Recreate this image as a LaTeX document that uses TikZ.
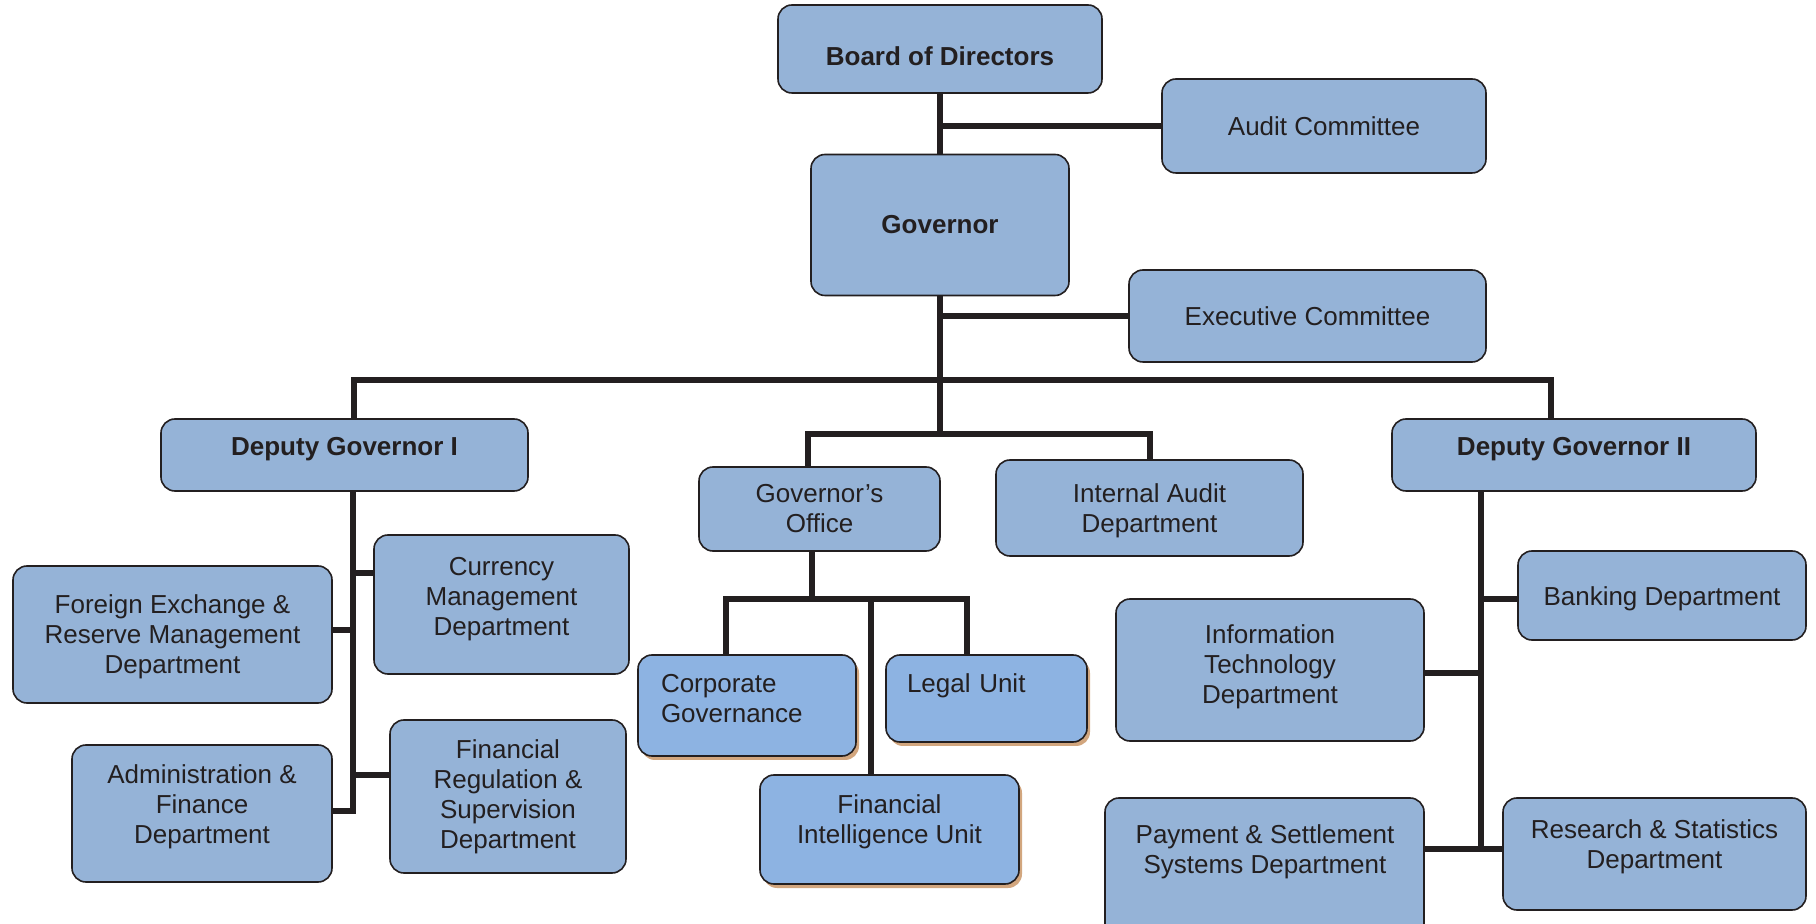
\documentclass[tikz,border=0pt]{standalone}
\usepackage{fontspec}
\setmainfont{Liberation Sans}
\usepackage{tikz}
\usetikzlibrary{positioning,shadows}
\definecolor{boxblue}{HTML}{95B3D7}
\definecolor{lightblue}{HTML}{8DB3E2}
\definecolor{shadowtan}{HTML}{D2A67E}
\definecolor{inkdark}{HTML}{231F20}
\newcommand{\padabove}[1]{\rule{0pt}{#1}}
\newcommand{\padbelow}[1]{\rule[-#1]{0pt}{#1}}
\tikzset{font=\fontsize{13}{15}\selectfont}
\tikzstyle{unit}=[rectangle,rounded corners=7pt,draw=inkdark,line width=0.8pt,fill=boxblue,text=inkdark,align=center,inner sep=2pt]
\tikzstyle{head}=[unit,font=\fontsize{13}{15}\selectfont\bfseries]
\tikzstyle{office}=[unit,fill=lightblue,drop shadow={shadow xshift=1.5pt,shadow yshift=-2pt,fill=shadowtan,opacity=1}]
\tikzstyle{conn}=[draw=inkdark,line width=2.8pt]

\begin{document}
\begin{tikzpicture}[x=0.5pt,y=-0.5pt]
\useasboundingbox (0,0) rectangle (1816,924);
\node[head,minimum width=162pt,minimum height=44pt] (bod) at (940,49) {\padabove{16.5pt}Board of Directors};
\node[unit,minimum width=162pt,minimum height=47pt] (audit) at (1324,126) {Audit Committee};
\node[head,minimum width=129pt,minimum height=70.5pt] (gov) at (940,225) {Governor};
\node[unit,minimum width=178.5pt,minimum height=46pt] (exec) at (1307.5,316) {Executive Committee};
\node[head,minimum width=183.5pt,minimum height=36pt] (dgi) at (344.5,455) {Deputy Governor I\padbelow{8.5pt}};
\node[head,minimum width=182pt,minimum height=36pt] (dgii) at (1574,455) {Deputy Governor II\padbelow{8.5pt}};
\node[unit,minimum width=120.5pt,minimum height=42pt] (goff) at (819.5,509) {Governor’s\\Office};
\node[unit,minimum width=153.5pt,minimum height=48pt] (iad) at (1149.5,508) {\padabove{11.9pt}Internal Audit\\Department};
\node[office,align=left,inner xsep=11.5pt,text width=86pt,minimum height=50.5pt] (corp) at (747,705.5) {Corporate\\Governance\padbelow{7pt}};
\node[office,align=left,inner xsep=10.5pt,text width=79.5pt,minimum height=43.5pt] (legal) at (986.5,698.5) {Legal Unit\\\mbox{}};
\node[office,minimum width=129.5pt,minimum height=54.5pt] (fiu) at (889.5,829.5) {Financial\\Intelligence Unit\padbelow{10.7pt}};
\node[unit,minimum width=127.5pt,minimum height=69.5pt] (cur) at (501.5,604.5) {Currency\\Management\\Department\padbelow{8.5pt}};
\node[unit,minimum width=159.5pt,minimum height=68.5pt] (fx) at (172.5,634.5) {\padabove{11.9pt}Foreign Exchange \&\\Reserve Management\\Department};
\node[unit,minimum width=118pt,minimum height=76.5pt] (fin) at (508,796.5) {Financial\\Regulation \&\\Supervision\\Department};
\node[unit,minimum width=130pt,minimum height=68.5pt] (adm) at (202,813.5) {Administration \&\\Finance\\Department\padbelow{9.7pt}};
\node[unit,minimum width=144pt,minimum height=44.5pt] (bank) at (1662,595.5) {\padabove{13pt}Banking Department};
\node[unit,minimum width=154pt,minimum height=71pt] (it) at (1270,670) {Information\\Technology\\Department\padbelow{6.2pt}};
\node[unit,minimum width=159.5pt,minimum height=80pt] (pay) at (1264.5,878) {};
\node[align=center,text=inkdark] (paytext) at (1265,852) {Payment \& Settlement\\Systems Department};
\node[unit,minimum width=151.5pt,minimum height=56pt] (res) at (1654.5,854) {Research \& Statistics\\Department\padbelow{9.7pt}};

\coordinate (b1) at (354,380);
\coordinate (b2) at (1551,380);
\coordinate (bm) at (940,434);
\coordinate (c1) at (808,434);
\coordinate (c2) at (1150,434);
\coordinate (s0) at (812,599);
\coordinate (s1) at (726,599);
\coordinate (s2) at (967,599);
\coordinate (s3) at (871,599);
\coordinate (d0) at (353,573);
\coordinate (d1) at (353,630);
\coordinate (d2) at (353,775);
\coordinate (d3) at (353,811);
\coordinate (e0) at (1481,599);
\coordinate (e1) at (1481,673);
\coordinate (e2) at (1481,849);

\draw[conn] (bod) -- (gov);
\draw[conn] (audit.west) -- (audit.west -| bod.south);
\draw[conn] (exec.west) -- (exec.west -| gov.south);
\draw[conn] (gov.south) -- (bm);
\draw[conn] (dgi.north -| b1) -- (b1) -- (b2) -- (b2 |- dgii.north);
\draw[conn] (goff.north -| c1) -- (c1) -- (c2) -- (c2 |- iad.north);
\draw[conn] (goff.south -| s0) -- (s0);
\draw[conn] (corp.north -| s1) -- (s1) -- (s2) -- (s2 |- legal.north);
\draw[conn] (s3) -- (s3 |- fiu.north);
\draw[conn] (dgi.south -| d3) -- (d3) -- (d3 -| adm.east);
\draw[conn] (d0) -- (d0 -| cur.west);
\draw[conn] (d1) -- (d1 -| fx.east);
\draw[conn] (d2) -- (d2 -| fin.west);
\draw[conn] (dgii.south -| e2) -- (e2);
\draw[conn] (e0) -- (e0 -| bank.west);
\draw[conn] (e1) -- (e1 -| it.east);
\draw[conn] (pay.east |- e2) -- (res.west |- e2);
\end{tikzpicture}
\end{document}
